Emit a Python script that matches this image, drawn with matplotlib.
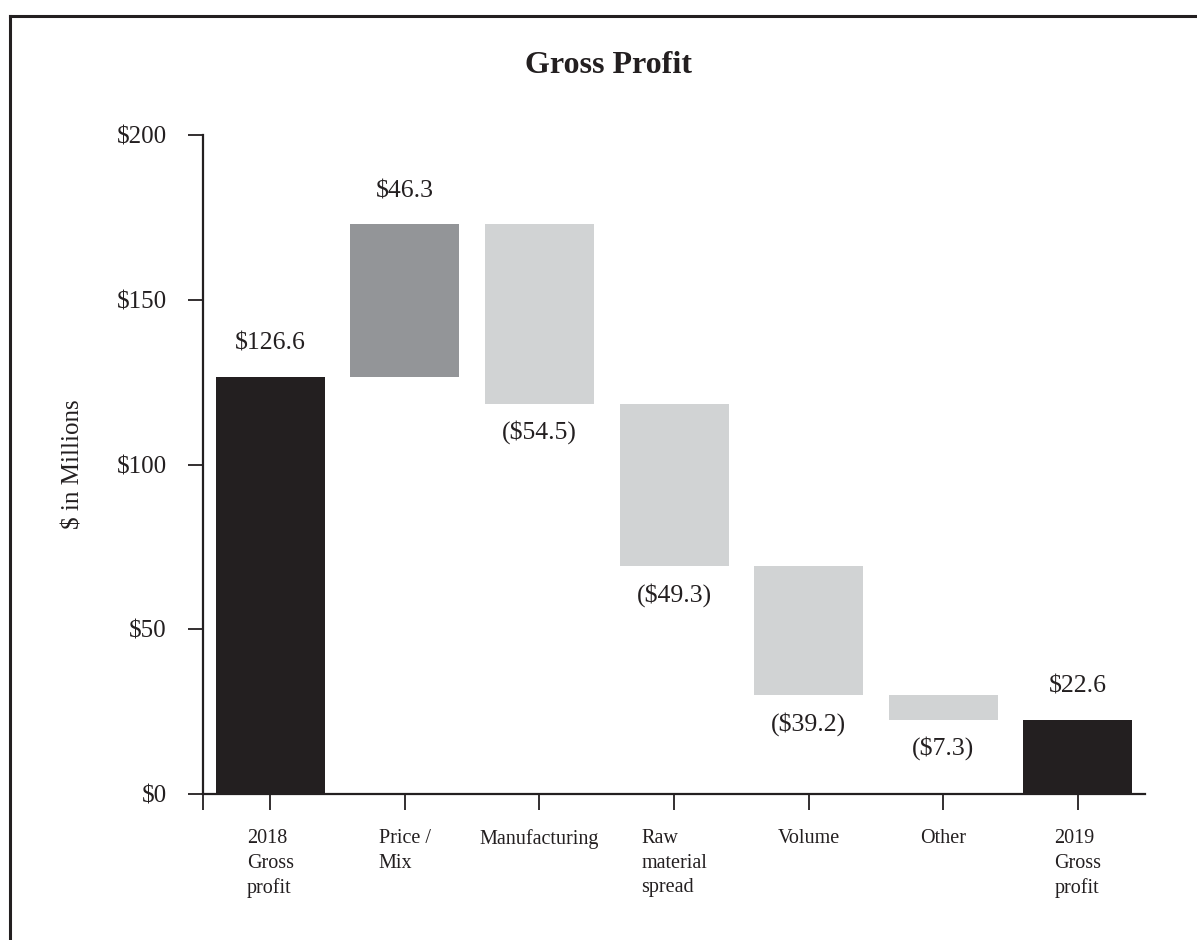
import matplotlib
matplotlib.use("Agg")
import matplotlib.pyplot as plt
from matplotlib.lines import Line2D

# Gross profit bridge, 2018 -> 2019 ($ in millions)
categories = ["2018\nGross\nprofit", "Price /\nMix", "Manufacturing",
              "Raw\nmaterial\nspread", "Volume", "Other", "2019\nGross\nprofit"]
start_total = 126.6
changes = [46.3, -54.5, -49.3, -39.2, -7.3]
end_total = 22.6

y_ticks = [0, 50, 100, 150, 200]
y_tick_labels = ["$0", "$50", "$100", "$150", "$200"]

TOTAL_COLOR = "#231f20"
UP_COLOR = "#939598"
DOWN_COLOR = "#d1d3d4"

plt.rcParams["font.family"] = ["Liberation Serif", "DejaVu Serif"]


def money(v):
    return f"${v:.1f}" if v >= 0 else f"(${-v:.1f})"


def main():
    fig = plt.figure(figsize=(11.97, 9.4), dpi=100)
    ax = fig.add_axes([0.1696, 0.1553, 0.787, 0.7011])

    # build floating bars: bottoms and heights
    bottoms = [0]
    heights = [start_total]
    colors = [TOTAL_COLOR]
    running = start_total
    for c in changes:
        if c >= 0:
            bottoms.append(running)
            heights.append(c)
            colors.append(UP_COLOR)
        else:
            bottoms.append(running + c)
            heights.append(-c)
            colors.append(DOWN_COLOR)
        running += c
    bottoms.append(0)
    heights.append(end_total)
    colors.append(TOTAL_COLOR)

    xs = list(range(len(categories)))
    ax.bar(xs, heights, bottom=bottoms, width=0.81, color=colors, zorder=2)

    # value labels: above for totals / increases, below for decreases
    values = [start_total] + changes + [end_total]
    for x, b, h, v in zip(xs, bottoms, heights, values):
        if v >= 0:
            ax.annotate(money(v), (x, b + h), xytext=(0, 16), textcoords="offset points",
                        ha="center", va="bottom", fontsize=18.5, color="#231f20")
        else:
            ax.annotate(money(v), (x, b), xytext=(0, -12), textcoords="offset points",
                        ha="center", va="top", fontsize=18.5, color="#231f20")

    ax.set_xlim(-0.5, len(categories) - 0.5)
    ax.set_ylim(0, 200)
    ax.set_yticks(y_ticks)
    ax.set_yticklabels(y_tick_labels, fontsize=18, color="#231f20")
    ax.set_xticks([-0.5] + xs)
    ax.set_xticklabels([""] + categories, fontsize=14.5, color="#231f20",
                       multialignment="left", va="top", linespacing=1.38)
    ax.tick_params(axis="y", length=11, width=1.3, pad=15, color="#231f20")
    ax.tick_params(axis="x", length=11.5, width=1.3, pad=14, color="#231f20")

    for side in ("top", "right"):
        ax.spines[side].set_visible(False)
    for side in ("left", "bottom"):
        ax.spines[side].set_linewidth(1.6)
        ax.spines[side].set_color("#231f20")

    ax.set_ylabel("$ in Millions", fontsize=18, color="#231f20", labelpad=22)
    ax.yaxis.set_label_coords(-0.126, 0.5)

    fig.text(0.508, 0.93, "Gross Profit", ha="center", va="center",
             fontsize=23, fontweight="bold", color="#231f20")

    # outer frame running off the right and bottom edges
    fx = 9.5 / 1197
    fy = 1 - 15.5 / 940
    fig.add_artist(Line2D([fx, fx], [fy, 0], transform=fig.transFigure,
                          color="#231f20", linewidth=2.2))
    fig.add_artist(Line2D([fx, 1], [fy, fy], transform=fig.transFigure,
                          color="#231f20", linewidth=2.2))

    fig.savefig("out.png", dpi=100, facecolor="white")


if __name__ == "__main__":
    main()
